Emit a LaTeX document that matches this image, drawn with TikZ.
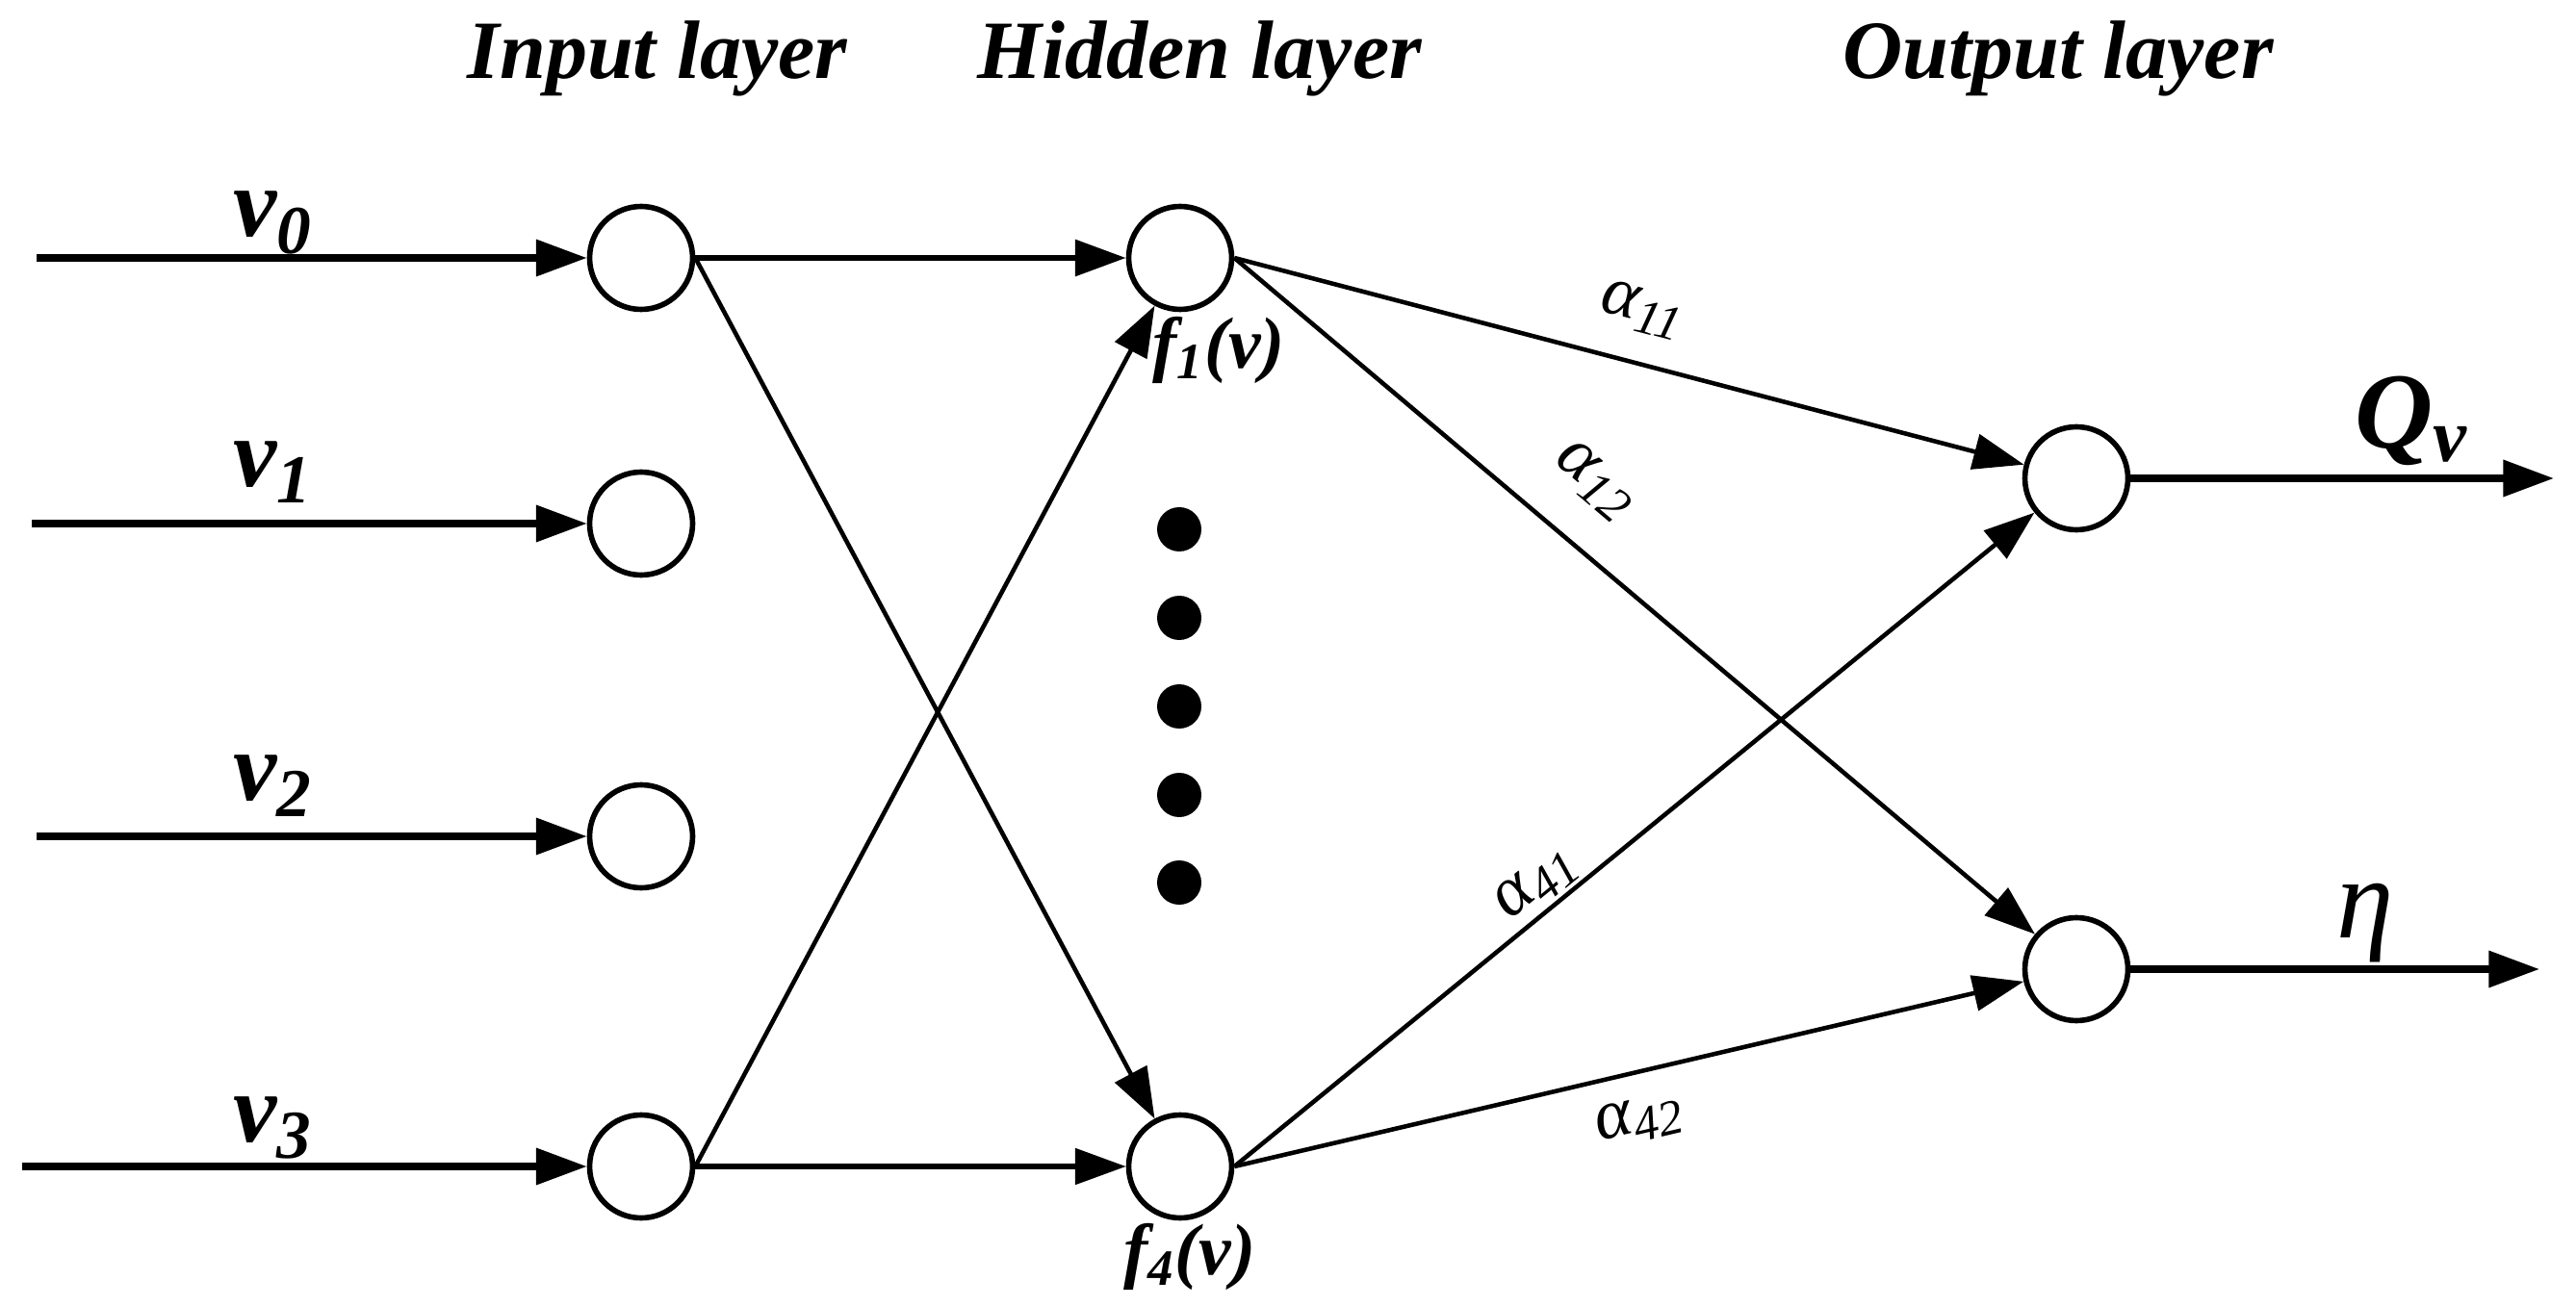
\documentclass[tikz,border=0pt]{standalone}
\usepackage{fontspec}
\setmainfont{Liberation Serif}
\usepackage{tikz}
\usetikzlibrary{arrows.meta, positioning, calc}

\tikzset{
    neuron/.style={circle, draw, line width=1.6pt, minimum size=1.07cm, inner sep=0pt},
    feed/.style={line width=2pt, -{Triangle[length=15pt, width=10.5pt]}},
    link/.style={line width=1.3pt, -{Triangle[length=15pt, width=10.5pt]}},
    layertitle/.style={font=\fontsize{24.5}{28}\selectfont\bfseries\itshape, anchor=base, inner sep=0pt},
    invar/.style={font=\fontsize{29}{32}\selectfont\bfseries\itshape, anchor=base, inner sep=0pt},
    fnlabel/.style={font=\fontsize{21.5}{24}\selectfont\bfseries\itshape, inner sep=0pt},
    weight/.style={font=\fontsize{21}{24}\selectfont\itshape, sloped, inner sep=1pt},
    dot/.style={circle, fill, minimum size=0.46cm, inner sep=0pt}
}

\begin{document}
\begin{tikzpicture}

    \useasboundingbox (0,0) rectangle (26.76,13.56);

    % layer titles
    \node[layertitle] (tin) at (6.83,12.74) {Input layer};
    \node[layertitle] (thid) at (12.46,12.74) {Hidden layer};
    \node[layertitle] (tout) at (21.38,12.74) {Output layer};

    % input layer
    \node[neuron] (in0) at (6.66,10.88) {};
    \node[neuron] (in1) at (6.66,8.12) {};
    \node[neuron] (in2) at (6.66,4.87) {};
    \node[neuron] (in3) at (6.66,1.44) {};

    \coordinate (s0) at (0.38,10.88);
    \coordinate (s1) at (0.33,8.12);
    \coordinate (s2) at (0.38,4.87);
    \coordinate (s3) at (0.23,1.44);

    \draw[feed] (s0) -- (in0);
    \draw[feed] (s1) -- (in1);
    \draw[feed] (s2) -- (in2);
    \draw[feed] (s3) -- (in3);

    \node[invar] (v0) at (2.84,11.1) {v\textsubscript{0}};
    \node[invar] (v1) at (2.84,8.50) {v\textsubscript{1}};
    \node[invar] (v2) at (2.84,5.25) {v\textsubscript{2}};
    \node[invar] (v3) at (2.84,1.70) {v\textsubscript{3}};

    % hidden layer
    \node[neuron] (h1) at (12.26,10.88) {};
    \node[neuron] (h4) at (12.26,1.44) {};
    \foreach \y [count=\i] in {8.06,7.14,6.22,5.30,4.39}
        \node[dot] (d\i) at (12.25,\y) {};

    \node[fnlabel, anchor=north west] (f1) at (11.97,10.27) {f\textsubscript{1}(v)};
    \node[fnlabel, anchor=north] (f4) at (12.36,0.85) {f\textsubscript{4}(v)};

    \draw[feed, line width=1.8pt] (in0.east) -- (h1);
    \draw[link] (in0.east) -- (h4);
    \draw[link] (in3.east) -- (h1);
    \draw[link, line width=1.5pt] (in3.east) -- (h4);

    % output layer
    \node[neuron] (o1) at (21.57,8.59) {};
    \node[neuron] (o2) at (21.57,3.49) {};

    \draw[link] (h1.east) -- node[weight, pos=0.5, above=0.26cm] (a11) {α\textsubscript{11}} (o1);
    \draw[link] (h1.east) -- node[weight, pos=0.40, above=0.36cm] (a12) {α\textsubscript{12}} (o2);
    \draw[link] (h4.east) -- node[weight, pos=0.40, above=0cm] (a41) {α\textsubscript{41}} (o1);
    \draw[link] (h4.east) -- node[weight, pos=0.50, below=0.2cm] (a42) {α\textsubscript{42}} (o2);

    \coordinate (e1) at (26.53,8.59);
    \coordinate (e2) at (26.38,3.49);
    \draw[feed, line width=2.1pt] (o1.east) -- (e1);
    \draw[feed] (o2.east) -- (e2);

    \node[anchor=base, inner sep=0pt, font=\fontsize{32}{36}\selectfont\bfseries\itshape] (qv) at (25.05,8.90) {Q\textsubscript{v}};
    \node[anchor=base, inner sep=0pt, font=\fontsize{34}{38}\selectfont\itshape] (eta) at (24.57,3.82) {η};

\end{tikzpicture}
\end{document}
